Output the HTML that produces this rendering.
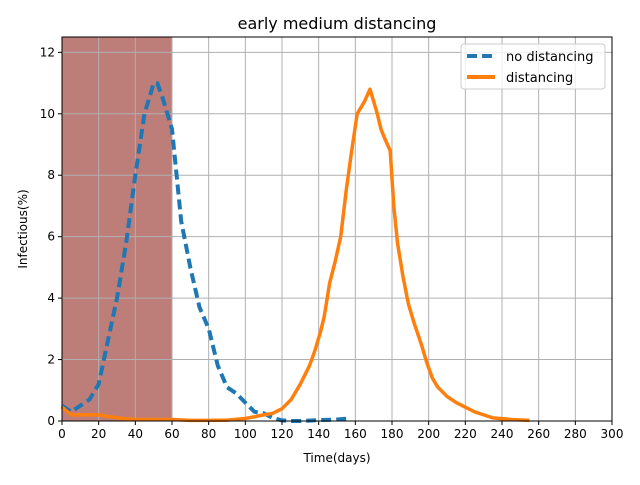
<!DOCTYPE html>
<html><head><meta charset="utf-8"><style>
body{margin:0;background:#fff}
svg{font-family:"DejaVu Sans","Liberation Sans",sans-serif}
</style></head><body>
<svg id="chart" width="640" height="480">
<text x="337" y="29" text-anchor="middle" font-size="16">early medium distancing</text>
<g id="grid"></g><g id="marks"></g><g id="axes"></g>
<text x="337" y="462" text-anchor="middle" font-size="12">Time(days)</text>
<text transform="translate(27,229) rotate(-90)" text-anchor="middle" font-size="12">Infectious(%)</text>
<g>
<rect x="461" y="44" width="144" height="45" rx="3" fill="#fff" fill-opacity="0.8" stroke="#ccc"/>
<line x1="467" y1="56" x2="495" y2="56" stroke="#1f77b4" stroke-width="4" stroke-dasharray="10,5"/>
<text x="506" y="61" font-size="13">no distancing</text>
<line x1="467" y1="77" x2="495" y2="77" stroke="#ff7f0e" stroke-width="4"/>
<text x="506" y="82" font-size="13">distancing</text>
</g>
</svg>
<script>
const xTicks=[0,20,40,60,80,100,120,140,160,180,200,220,240,260,280,300];
const yTicks=[0,2,4,6,8,10,12];
const shadeRange=[0,60];
const blueDays=[0,5,10,15,20,25,30,35,40,45,50,52,55,60,65,70,75,80,85,90,95,100,105,110,115,120,125,130,140,150,155];
const blueVals=[0.5,0.3,0.5,0.7,1.2,2.6,4.0,5.8,8.0,10.0,11.0,11.0,10.5,9.5,6.5,5.0,3.7,3.0,1.8,1.1,0.9,0.6,0.3,0.25,0.1,0.02,0,0,0.03,0.05,0.07];
const orangeDays=[0,3,5,10,20,25,30,40,50,60,70,80,90,100,110,115,120,125,130,135,138,141,143,146,149,152,155,158,161,165,168,170,172,174,176,179,181,183,186,189,192,196,199,202,205,210,215,220,225,230,235,245,255];
const orangeVals=[0.45,0.3,0.2,0.2,0.2,0.15,0.1,0.05,0.05,0.05,0.02,0.02,0.03,0.08,0.2,0.25,0.4,0.7,1.2,1.8,2.3,2.9,3.4,4.5,5.2,6.0,7.5,8.8,10.0,10.4,10.8,10.4,10.0,9.5,9.2,8.8,7.0,5.8,4.7,3.8,3.2,2.5,1.9,1.4,1.1,0.8,0.6,0.45,0.3,0.2,0.1,0.05,0.02];
const L=62,R=612,T=37,B=421,xMax=300,yMax=12.5;
const X=d=>L+d/xMax*(R-L), Y=v=>B-v/yMax*(B-T);
const NS="http://www.w3.org/2000/svg";
function mk(tag,attrs,parent){const e=document.createElementNS(NS,tag);for(const k in attrs)e.setAttribute(k,attrs[k]);parent.appendChild(e);return e;}
const grid=document.getElementById('grid'),marks=document.getElementById('marks'),axes=document.getElementById('axes');
const sh=mk('rect',{x:X(shadeRange[0]),y:T,width:X(shadeRange[1])-X(shadeRange[0]),height:B-T,fill:'#bd7d79'},grid);


xTicks.forEach(t=>{
 const g=mk('line',{x1:X(t),x2:X(t),y1:T,y2:B,stroke:'#b0b0b0','stroke-width':1},grid);
 
 
 mk('line',{x1:X(t),x2:X(t),y1:B,y2:B+4,stroke:'#000'},axes);
 const tx=mk('text',{x:X(t),y:B+17,'text-anchor':'middle','font-size':12},axes);tx.textContent=t;
 
 
});
yTicks.forEach(t=>{
 const g=mk('line',{x1:L,x2:R,y1:Y(t),y2:Y(t),stroke:'#b0b0b0','stroke-width':1},grid);
 
 
 mk('line',{x1:L-4,x2:L,y1:Y(t),y2:Y(t),stroke:'#000'},axes);
 const tx=mk('text',{x:L-7,y:Y(t)+4,'text-anchor':'end','font-size':12},axes);tx.textContent=t;
 
 
});
const fr=mk('rect',{x:L,y:T,width:R-L,height:B-T,fill:'none',stroke:'#000','stroke-width':1},axes);


const pts=(ds,vs)=>ds.map((d,i)=>X(d).toFixed(1)+','+Y(vs[i]).toFixed(1)).join(' ');
const b=mk('polyline',{points:pts(blueDays,blueVals),fill:'none',stroke:'#1f77b4','stroke-width':4,'stroke-dasharray':'10,5','stroke-linejoin':'round'},marks);


const o=mk('polyline',{points:pts(orangeDays,orangeVals),fill:'none',stroke:'#ff7f0e','stroke-width':3.5,'stroke-linejoin':'round'},marks);


</script>
</body></html>
